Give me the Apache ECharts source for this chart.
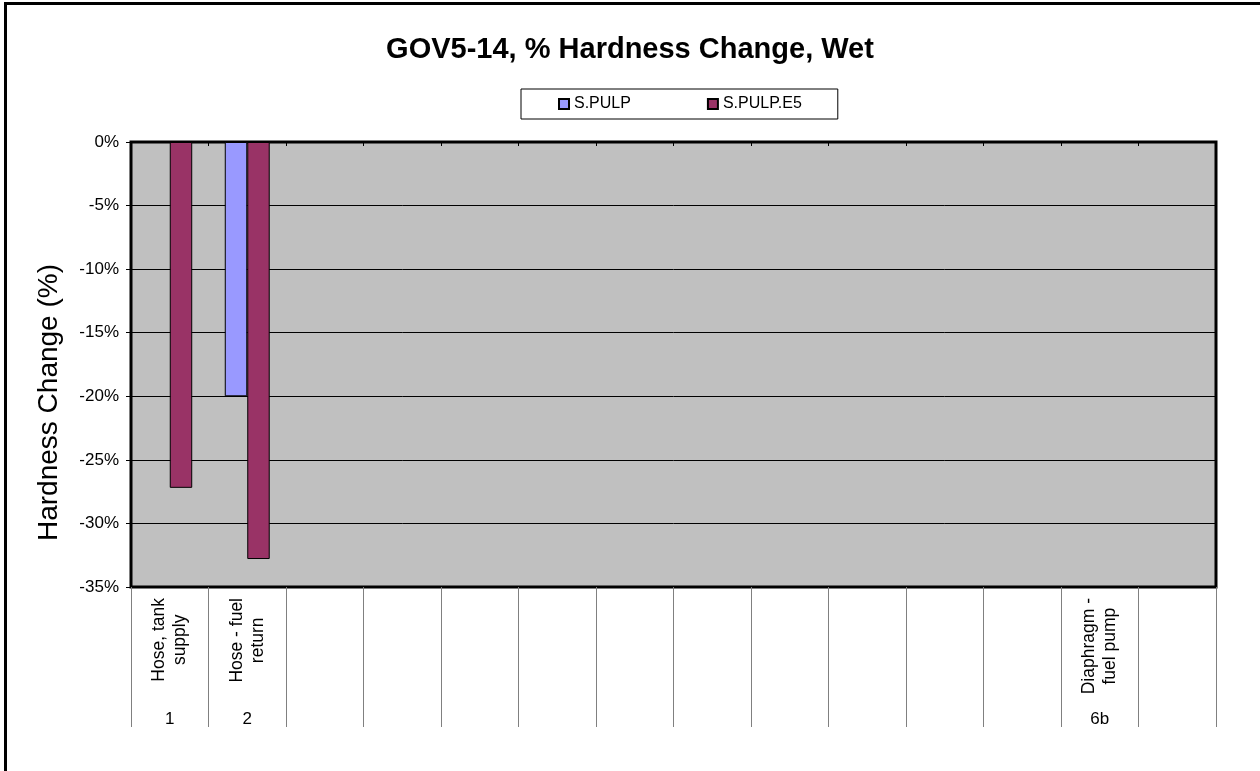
<!DOCTYPE html>
<html>
<head>
<meta charset="utf-8">
<script src="https://cdn.jsdelivr.net/npm/echarts@6/dist/echarts.min.js"></script>
<style>
  html, body { margin: 0; padding: 0; background: #fff; }
  #chart { width: 1260px; height: 771px; }
</style>
</head>
<body>
<div id="chart"></div>
<script>
// Component names (two-line rotated labels) and part codes per category slot
const partNames = [
  'Hose, tank\nsupply', 'Hose - fuel\nreturn', '', '', '', '', '', '', '', '', '', '',
  'Diaphragm -\nfuel pump', ''
];
const partCodes = ['1', '2', '', '', '', '', '', '', '', '', '', '', '6b', ''];
const categories = partNames.map((_, i) => 'c' + i);

// Hardness change (%) per fuel
const sPulp   = [null, -20.0, null, null, null, null, null, null, null, null, null, null, null, null];
const sPulpE5 = [-27.2, -32.8, null, null, null, null, null, null, null, null, null, null, null, null];

const yTicks = { min: -35, max: 0, step: 5 };

const FONT = '"Liberation Sans", Arial, sans-serif';
const chart = echarts.init(document.getElementById('chart'));

chart.setOption({
  backgroundColor: '#ffffff',
  animation: false,
  title: {
    text: 'GOV5-14, % Hardness Change, Wet',
    left: 'center',
    top: 30,
    textStyle: { fontFamily: FONT, fontSize: 29, fontWeight: 'bold', color: '#000' }
  },
  legend: {
    left: 521,
    top: 89,
    padding: [7, 36, 7, 37],
    itemGap: 76,
    itemWidth: 10,
    itemHeight: 10,
    borderColor: '#000',
    borderWidth: 1,
    backgroundColor: '#fff',
    icon: 'rect',
    textStyle: { fontFamily: FONT, fontSize: 16, color: '#000' },
    data: ['S.PULP', 'S.PULP.E5']
  },
  grid: {
    left: 131, top: 142, right: 44, bottom: 184,
    show: true,
    backgroundColor: '#C0C0C0',
    borderColor: '#000',
    borderWidth: 3
  },
  xAxis: [
    {
      type: 'category',
      data: categories,
      position: 'bottom',
      axisLine: { show: false, onZero: false },
      axisTick: { show: false },
      axisLabel: {
        interval: 0,
        rotate: 90,
        margin: 11,
        fontFamily: FONT,
        fontSize: 17.5,
        color: '#000',
        formatter: (v, i) => partNames[i]
          ? partNames[i].split('\n').map(s => '{c|' + s + '}').join('\n')
          : '',
        rich: { c: { align: 'center', fontFamily: FONT, fontSize: 17.5, color: '#000', lineHeight: 21 } }
      }
    },
    {
      type: 'category',
      data: categories,
      position: 'bottom',
      axisLine: { show: false, onZero: false },
      axisTick: { show: true, length: 140, lineStyle: { color: '#808080', width: 1 } },
      axisLabel: {
        interval: 0,
        margin: 124,
        fontFamily: FONT,
        fontSize: 17,
        color: '#000',
        formatter: (v, i) => partCodes[i]
      }
    },
    {
      type: 'category',
      data: categories,
      position: 'top',
      axisLine: { show: false, onZero: false },
      axisTick: { show: true, inside: true, length: 4, lineStyle: { color: '#000' } },
      axisLabel: { show: false }
    }
  ],
  yAxis: {
    type: 'value',
    min: yTicks.min,
    max: yTicks.max,
    interval: yTicks.step,
    name: 'Hardness Change (%)',
    nameLocation: 'middle',
    nameGap: 68,
    nameTextStyle: { fontFamily: FONT, fontSize: 28, color: '#000', padding: [0, 76, 0, 0] },
    axisLine: { show: false },
    axisTick: { show: true, length: 5, lineStyle: { color: '#000' } },
    axisLabel: {
      margin: 12,
      fontFamily: FONT,
      fontSize: 17,
      color: '#000',
      formatter: v => v + '%'
    },
    splitLine: { show: true, lineStyle: { color: '#000', width: 1 } }
  },
  series: [
    {
      name: 'S.PULP',
      type: 'bar',
      xAxisIndex: 0,
      data: sPulp,
      barGap: '0%',
      barCategoryGap: '42%',
      itemStyle: { color: '#9999FF', borderColor: '#000', borderWidth: 1 }
    },
    {
      name: 'S.PULP.E5',
      type: 'bar',
      xAxisIndex: 0,
      data: sPulpE5,
      barGap: '0%',
      barCategoryGap: '42%',
      itemStyle: { color: '#993366', borderColor: '#000', borderWidth: 1 }
    }
  ],
  graphic: [
    {
      type: 'polyline',
      shape: { points: [[5.5, 771], [5.5, 3.5], [1260, 3.5]] },
      style: { stroke: '#000', lineWidth: 3, fill: null },
      silent: true
    }
  ]
});
</script>
</body>
</html>
